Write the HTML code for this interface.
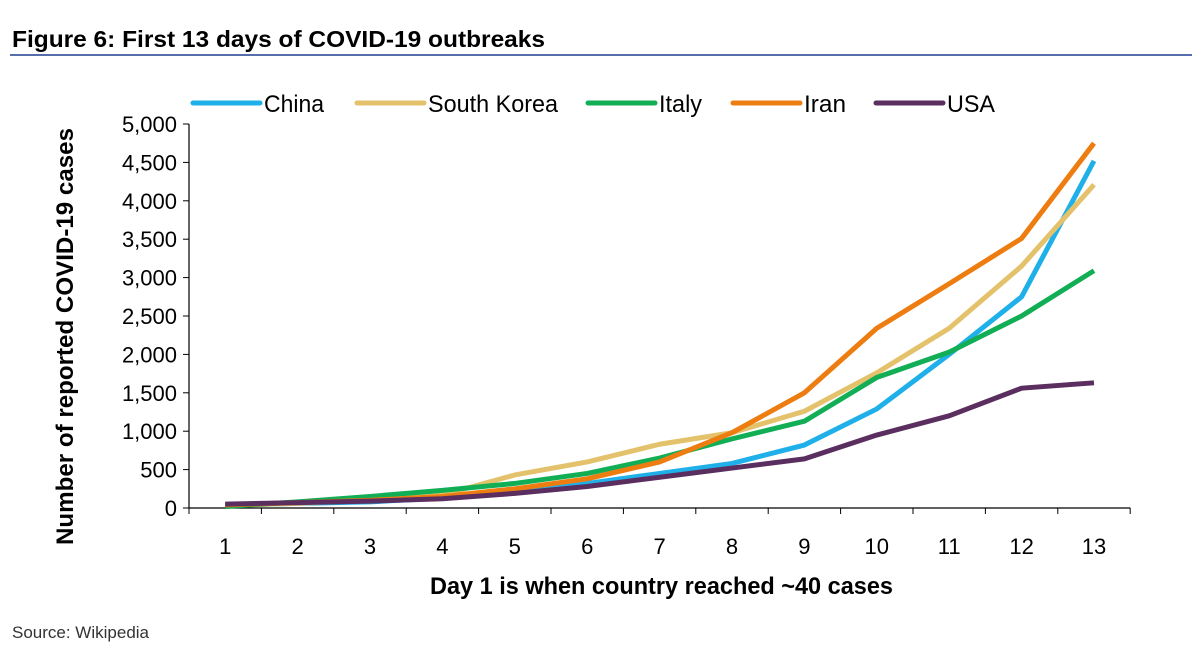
<!DOCTYPE html>
<html><head><meta charset="utf-8"><style>
body{margin:0;background:#fff;width:1200px;height:656px;overflow:hidden;font-family:"Liberation Sans",sans-serif}
</style></head><body>
<svg width="1200" height="656">
<text x="12" y="47" font-size="23" font-weight="bold" fill="#000" textLength="533" lengthAdjust="spacingAndGlyphs">Figure 6: First 13 days of COVID-19 outbreaks</text>
<line x1="10" y1="55" x2="1192" y2="55" stroke="#1f3f8f" stroke-width="1.5"/>
<text x="12" y="638" font-size="17" fill="#333">Source: Wikipedia</text>
<g id="plot"></g>
</svg>
<script>
const days=[1,2,3,4,5,6,7,8,9,10,11,12,13];
const yTicks=[0,500,1000,1500,2000,2500,3000,3500,4000,4500,5000];
const yTickLabels=["0","500","1,000","1,500","2,000","2,500","3,000","3,500","4,000","4,500","5,000"];
const seriesNames=["China","South Korea","Italy","Iran","USA"];
const seriesColors=["#1fb0ea","#e3c26b","#11ae55","#ed7d10","#5a2e5f"];
const china=[40,60,80,130,220,320,450,580,820,1290,2000,2750,4520];
const korea=[40,60,110,170,430,600,830,980,1260,1760,2340,3150,4210];
const italy=[20,80,150,230,320,450,650,900,1130,1700,2030,2500,3090];
const iran=[40,70,100,150,250,380,600,980,1500,2340,2920,3510,4750];
const usa=[50,70,90,120,190,280,400,520,640,950,1200,1560,1630];
const allSeries=[china,korea,italy,iran,usa];
const NS="http://www.w3.org/2000/svg";
const g=document.getElementById('plot');
const x0=189,step=72.4,yBase=508,yTop=124;
const xs=d=>x0+(d-0.5)*step;
const ys=v=>yBase-(v/5000)*(yBase-yTop);
function mk(t,a){const e=document.createElementNS(NS,t);for(const k in a)e.setAttribute(k,a[k]);g.appendChild(e);return e;}
let e=mk('line',{x1:x0,y1:yTop,x2:x0,y2:yBase,stroke:'#000','stroke-width':1.2});


e=mk('line',{x1:x0,y1:yBase,x2:x0+13*step,y2:yBase,stroke:'#000','stroke-width':1.2});


yTicks.forEach((v,i)=>{
 mk('line',{x1:x0-6,y1:ys(v),x2:x0,y2:ys(v),stroke:'#000'});
 e=mk('text',{x:x0-12,y:ys(v)+8,'text-anchor':'end','font-size':22});
 e.textContent=yTickLabels[i];
 
 
});
for(let i=0;i<=13;i++) mk('line',{x1:x0+i*step,y1:yBase,x2:x0+i*step,y2:yBase+6,stroke:'#000'});
days.forEach(d=>{
 e=mk('text',{x:xs(d),y:554,'text-anchor':'middle','font-size':22});
 e.textContent=String(d);
 
 
});
e=mk('text',{x:430,y:594,'font-size':24,'font-weight':'bold',textLength:463,lengthAdjust:'spacingAndGlyphs'});
e.textContent='Day 1 is when country reached ~40 cases';


e=mk('text',{x:0,y:0,'font-size':24,'font-weight':'bold',textLength:417,lengthAdjust:'spacingAndGlyphs',transform:'translate(73,545) rotate(-90)'});
e.textContent='Number of reported COVID-19 cases';


allSeries.forEach((s,i)=>{
 const p=mk('polyline',{points:s.map((v,j)=>xs(days[j])+','+ys(v)).join(' '),fill:'none',stroke:seriesColors[i],'stroke-width':5,'stroke-linejoin':'round'});
 
 
});
const legX=[193,357,588,733,876];
const legW=[60,130,43,42,48];
seriesNames.forEach((n,i)=>{
 e=mk('line',{x1:legX[i],y1:103,x2:legX[i]+67,y2:103,stroke:seriesColors[i],'stroke-width':5,'stroke-linecap':'round'});
 
 
 e=mk('text',{x:legX[i]+71,y:112,'font-size':24,textLength:legW[i],lengthAdjust:'spacingAndGlyphs'});
 e.textContent=n;
 
 
});
</script>
</body></html>
